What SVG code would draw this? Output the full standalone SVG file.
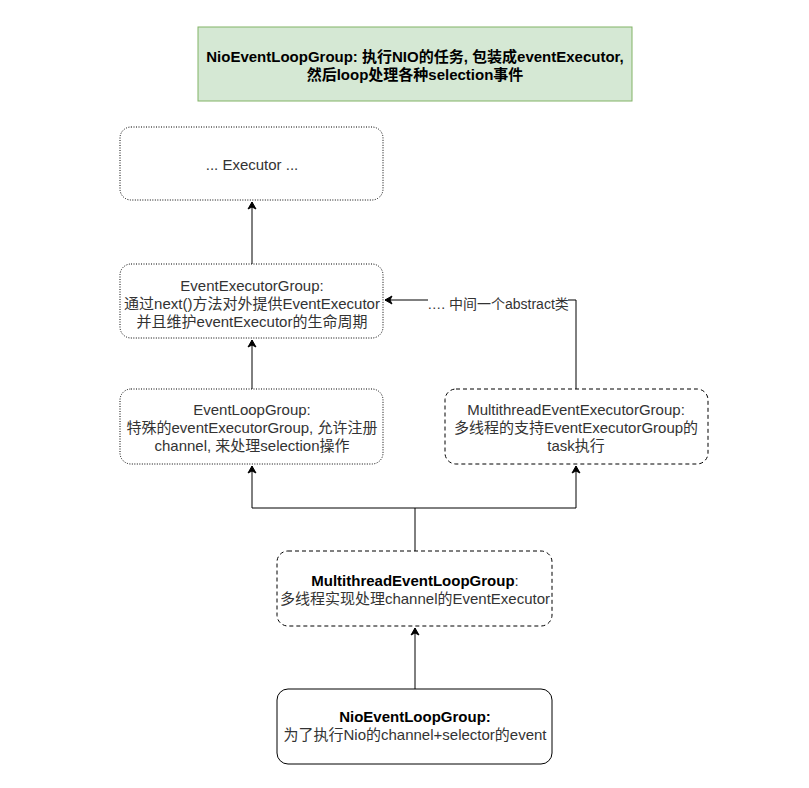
<svg xmlns="http://www.w3.org/2000/svg" width="809" height="788" viewBox="0 0 809 788">
  <defs>
    <marker id="arrow" markerWidth="10" markerHeight="10" refX="8" refY="5" orient="auto" markerUnits="userSpaceOnUse">
      <path d="M1,1 L8,5 L1,9 L3,5 Z" fill="#000" stroke="#000" stroke-width="1"/>
    </marker>
    <style>
      .box { fill: #fff; stroke: #000; stroke-width: 1; }
      .dotted { stroke-dasharray: 1 1.5; }
      .dashed { stroke-dasharray: 4 3; }
      .t { font-family: "Liberation Sans", "Noto Sans CJK SC", sans-serif; font-size: 15px; fill: #333; text-anchor: middle; }
      .b { font-weight: bold; fill: #000; }
      .edge { fill: none; stroke: #000; stroke-width: 1; }
    </style>
  </defs>
  <rect width="809" height="788" fill="#fff"/>

  <g id="title">
    <rect x="198" y="27" width="434" height="74" fill="#d5e8d4" stroke="#82b366"/>
    <text class="t b" x="415" y="62">NioEventLoopGroup: 执行NIO的任务, 包装成eventExecutor,</text>
    <text class="t b" x="415" y="80">然后loop处理各种selection事件</text>
  </g>

  <g id="connectors">
    <path class="edge" d="M252,264 V202" marker-end="url(#arrow)"/>
    <path class="edge" d="M252,389 V340" marker-end="url(#arrow)"/>
    <path class="edge" d="M576,389 V300 H385" marker-end="url(#arrow)"/>
    <path class="edge" d="M415,551 V508 H252 V466" marker-end="url(#arrow)"/>
    <path class="edge" d="M415,508 H576 V466" marker-end="url(#arrow)"/>
    <path class="edge" d="M415,689 V628" marker-end="url(#arrow)"/>
    <rect x="428" y="292" width="140" height="18" fill="#fff"/>
    <text class="t" x="498" y="309" style="font-size:14px">…. 中间一个abstract类</text>
  </g>

  <g id="executor">
    <rect class="box dotted" x="120" y="127" width="263" height="73" rx="11"/>
    <text class="t" x="252" y="170">... Executor ...</text>
  </g>

  <g id="event-executor-group">
    <rect class="box dotted" x="120" y="264" width="263" height="74" rx="11"/>
    <text class="t" x="252" y="291">EventExecutorGroup:</text>
    <text class="t" x="252" y="309">通过next()方法对外提供EventExecutor</text>
    <text class="t" x="252" y="327">并且维护eventExecutor的生命周期</text>
  </g>

  <g id="event-loop-group">
    <rect class="box dotted" x="120" y="389" width="263" height="75" rx="11"/>
    <text class="t" x="252" y="415">EventLoopGroup:</text>
    <text class="t" x="252" y="433">特殊的eventExecutorGroup, 允许注册</text>
    <text class="t" x="252" y="451">channel, 来处理selection操作</text>
  </g>

  <g id="multithread-event-executor-group">
    <rect class="box dashed" x="445" y="389" width="263" height="75" rx="11"/>
    <text class="t" x="576" y="415">MultithreadEventExecutorGroup:</text>
    <text class="t" x="576" y="433">多线程的支持EventExecutorGroup的</text>
    <text class="t" x="576" y="451">task执行</text>
  </g>

  <g id="multithread-event-loop-group">
    <rect class="box dashed" x="277" y="551" width="275" height="75" rx="11"/>
    <text class="t" x="415" y="586"><tspan class="b">MultithreadEventLoopGroup</tspan>:</text>
    <text class="t" x="415" y="604">多线程实现处理channel的EventExecutor</text>
  </g>

  <g id="nio-event-loop-group">
    <rect class="box" x="277" y="689" width="275" height="75" rx="11"/>
    <text class="t b" x="415" y="722">NioEventLoopGroup:</text>
    <text class="t" x="415" y="740">为了执行Nio的channel+selector的event</text>
  </g>
</svg>
